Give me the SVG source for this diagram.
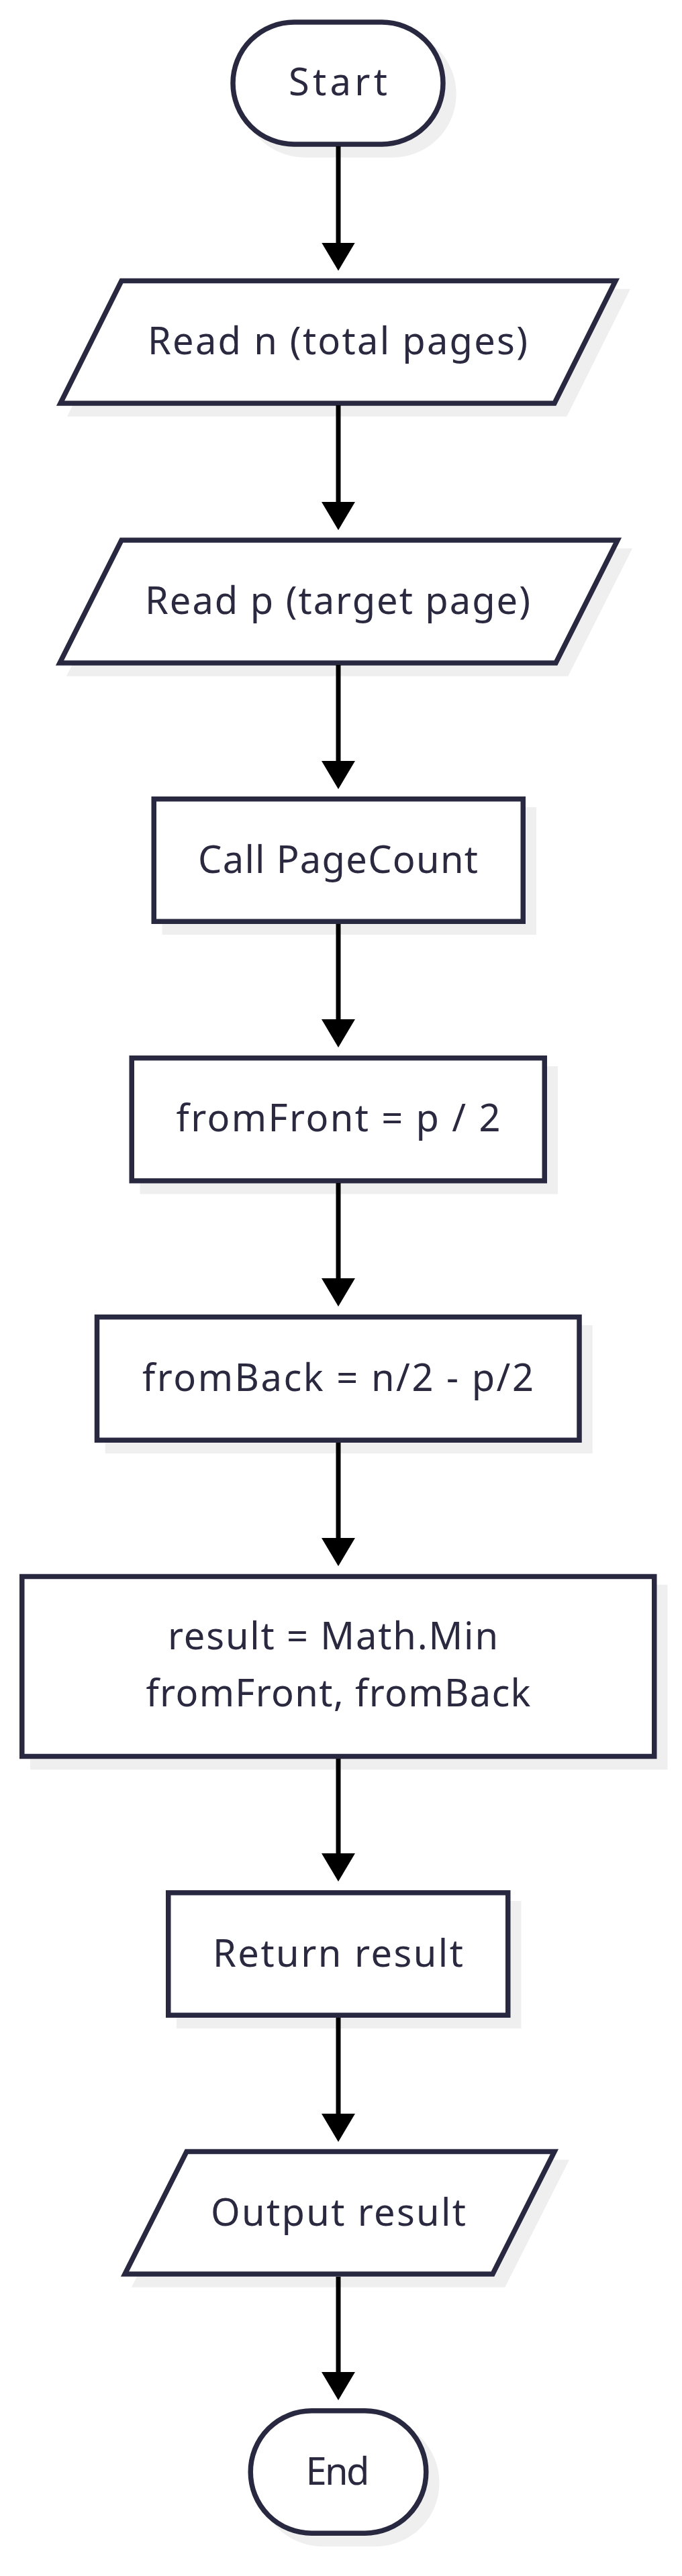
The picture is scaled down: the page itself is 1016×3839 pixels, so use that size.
<svg xmlns="http://www.w3.org/2000/svg" width="1016" height="3839" viewBox="0 0 1016 3839">
  <style>
    .shape { fill: #ffffff; stroke: #282840; stroke-width: 7.5; stroke-linejoin: miter; }
    .shadow { fill: #efefef; stroke: #efefef; stroke-width: 7.5; }
    .label { font-family: "Noto Sans", "DejaVu Sans", sans-serif; font-size: 56px; fill: #2a2940; text-anchor: middle; }
    .edge { stroke: #000000; stroke-width: 7; fill: none; }
  </style>
  <defs>
    <marker id="arrow" markerUnits="userSpaceOnUse" markerWidth="44" markerHeight="52" refX="2" refY="25" orient="auto" viewBox="0 0 44 52">
      <path d="M0,0 L42,25 L0,50 Z" fill="#000000"/>
    </marker>
  </defs>
  <rect width="1016" height="3839" fill="#ffffff"/>

  <g id="start">
    <rect class="shadow" x="363" y="49" width="313" height="182" rx="91" ry="91"/>
    <rect class="shape" x="347" y="33" width="313" height="182" rx="91" ry="91"/>
    <text class="label" x="503.5" y="142" textLength="147" lengthAdjust="spacing">Start</text>
  </g>

  <g id="read_n">
    <polygon class="shadow" points="197,434.5 933,434.5 842,617 106,617"/>
    <polygon class="shape" points="181,418.5 917,418.5 826,601 90,601"/>
    <text class="label" x="503" y="528" textLength="566" lengthAdjust="spacing">Read n (total pages)</text>
  </g>

  <g id="read_p">
    <polygon class="shadow" points="197,821 936,821 844,1004 105,1004"/>
    <polygon class="shape" points="181,805 920,805 828,988 89,988"/>
    <text class="label" x="503" y="915" textLength="574" lengthAdjust="spacing">Read p (target page)</text>
  </g>

  <g id="call_pagecount">
    <rect class="shadow" x="245.25" y="1206.75" width="550" height="182.5"/>
    <rect class="shape" x="229.25" y="1190.75" width="550" height="182.5"/>
    <text class="label" x="503.5" y="1300.5" textLength="417" lengthAdjust="spacing">Call PageCount</text>
  </g>

  <g id="from_front">
    <rect class="shadow" x="212.25" y="1592.75" width="615" height="183"/>
    <rect class="shape" x="196.25" y="1576.75" width="615" height="183"/>
    <text class="label" x="504" y="1686" textLength="483" lengthAdjust="spacing">fromFront = p / 2</text>
  </g>

  <g id="from_back">
    <rect class="shadow" x="160.5" y="1978.75" width="718.5" height="183.5"/>
    <rect class="shape" x="144.5" y="1962.75" width="718.5" height="183.5"/>
    <text class="label" x="503.5" y="2073" textLength="583" lengthAdjust="spacing">fromBack = n/2 - p/2</text>
  </g>

  <g id="result">
    <rect class="shadow" x="48.75" y="2365.5" width="942" height="268"/>
    <rect class="shape" x="32.75" y="2349.5" width="942" height="268"/>
    <text class="label" x="496" y="2458" textLength="492" lengthAdjust="spacing">result = Math.Min</text>
    <text class="label" x="504" y="2543" textLength="573" lengthAdjust="spacing">fromFront, fromBack</text>
  </g>

  <g id="return_result">
    <rect class="shadow" x="266.75" y="2836.75" width="506" height="182.5"/>
    <rect class="shape" x="250.75" y="2820.75" width="506" height="182.5"/>
    <text class="label" x="503.5" y="2931" textLength="373" lengthAdjust="spacing">Return result</text>
  </g>

  <g id="output_result">
    <polygon class="shadow" points="294,3222.5 842,3222.5 750,3405 202,3405"/>
    <polygon class="shape" points="278,3206.5 826,3206.5 734,3389 186,3389"/>
    <text class="label" x="504" y="3317" textLength="380" lengthAdjust="spacing">Output result</text>
  </g>

  <g id="end">
    <rect class="shadow" x="389.25" y="3608.75" width="261.5" height="182.5" rx="91" ry="91"/>
    <rect class="shape" x="373.25" y="3592.75" width="261.5" height="182.5" rx="91" ry="91"/>
    <text class="label" x="503" y="3703" textLength="95" lengthAdjust="spacing">End</text>
  </g>

  <g id="connectors">
    <path class="edge" d="M504,218 L504,363.5" marker-end="url(#arrow)"/>
    <path class="edge" d="M504,604 L504,750" marker-end="url(#arrow)"/>
    <path class="edge" d="M504,991 L504,1136" marker-end="url(#arrow)"/>
    <path class="edge" d="M504,1377 L504,1521" marker-end="url(#arrow)"/>
    <path class="edge" d="M504,1763 L504,1907" marker-end="url(#arrow)"/>
    <path class="edge" d="M504,2150 L504,2294" marker-end="url(#arrow)"/>
    <path class="edge" d="M504,2621 L504,2764" marker-end="url(#arrow)"/>
    <path class="edge" d="M504,3007 L504,3152" marker-end="url(#arrow)"/>
    <path class="edge" d="M504,3393 L504,3537" marker-end="url(#arrow)"/>
  </g>
</svg>
